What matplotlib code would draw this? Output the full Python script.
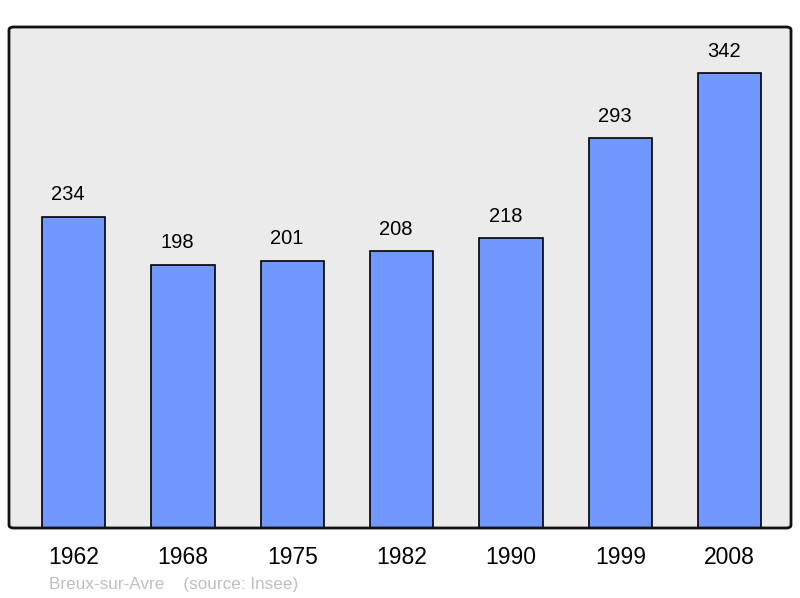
import matplotlib.pyplot as plt
from matplotlib.patches import FancyBboxPatch

plt.rcParams['font.family'] = ['Liberation Sans', 'DejaVu Sans']

years = ['1962', '1968', '1975', '1982', '1990', '1999', '2008']
population = [234, 198, 201, 208, 218, 293, 342]
town = 'Breux-sur-Avre'
source = '(source: Insee)'

fig = plt.figure(figsize=(8, 5.98), dpi=100)
ax = fig.add_axes([9/800, 70/598, 782/800, 501/598])
ax.set_facecolor('#ebebeb')

x = list(range(len(years)))
ax.bar(x, population, width=0.58, color='#7098ff', edgecolor='black', linewidth=1.2, zorder=2)
for xi, v in zip(x, population):
    ax.annotate(str(v), (xi, v), xytext=(-4, 9), textcoords='offset points',
                ha='center', va='bottom', fontsize=14.5)

ax.set_xlim(-0.59, 6.56)
ax.set_ylim(0, 376.7)
ax.set_yticks([])
ax.set_xticks(x)
ax.set_xticklabels(years, fontsize=16.5)
ax.tick_params(axis='x', length=0, pad=13)
for s in ax.spines.values():
    s.set_visible(False)

frame = FancyBboxPatch((0, 0), 1, 1, boxstyle='round,pad=0,rounding_size=0.006',
                       transform=ax.transAxes, facecolor='none', edgecolor='#111111',
                       linewidth=2, zorder=5, clip_on=False)
ax.add_patch(frame)

fig.text(49/800, 1 - 584/598, town + '    ' + source, color='#c0c0c0', fontsize=12.3,
         va='center', ha='left')

fig.savefig('out.png', dpi=100)
